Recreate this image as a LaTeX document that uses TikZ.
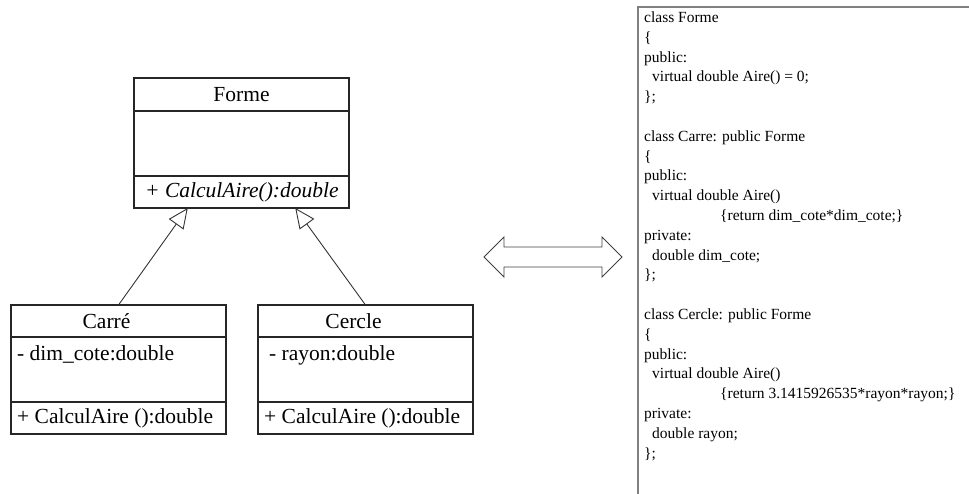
\documentclass[tikz,border=0pt]{standalone}
\usepackage{fontspec}
\setmainfont{Liberation Serif}
\usetikzlibrary{arrows.meta,positioning,calc}

\begin{document}
\begin{tikzpicture}[x=1pt,y=-1pt,
  box/.style={draw=black!85,line width=1.2pt,minimum width=215pt,inner sep=0pt,outer sep=0pt},
  umltext/.style={font=\fontsize{21.5}{24}\selectfont,inner sep=0pt},
  inherit/.style={draw=black!80,line width=0.9pt,-{Triangle[open,length=20pt,width=18pt]}},
  codefont/.style={font=\fontsize{15.5}{19.8}\selectfont,align=left,inner sep=0pt,anchor=north west}]
\useasboundingbox (0,0) rectangle (969,494);

% class Forme
\node[box,minimum height=33pt] (forme) at (241.5,94.5) {};
\node[box,minimum height=65pt,below=0pt of forme] (formeattr) {};
\node[box,minimum height=32pt,below=0pt of formeattr] (formeop) {};
\node[umltext] (formename) at (forme.center) {Forme};
\node[umltext,anchor=west] (formeopname) at ([xshift=11pt]formeop.west) {\itshape + CalculAire():double};

% class Carre
\node[box,minimum height=32pt] (carre) at (118.5,321) {};
\node[box,minimum height=65pt,below=0pt of carre] (carreattr) {};
\node[box,minimum height=32pt,below=0pt of carreattr] (carreop) {};
\node[umltext] (carrename) at ([xshift=-12pt]carre.center) {Carré};
\node[umltext,anchor=base west] (carreattrname) at ([xshift=6pt,yshift=-23pt]carreattr.north west) {- dim\_cote:double};
\node[umltext,anchor=west] (carreopname) at ([xshift=6pt]carreop.west) {+ CalculAire ():double};

% class Cercle
\node[box,minimum height=32pt] (cercle) at (365.5,321) {};
\node[box,minimum height=65pt,below=0pt of cercle] (cercleattr) {};
\node[box,minimum height=32pt,below=0pt of cercleattr] (cercleop) {};
\node[umltext] (cerclename) at ([xshift=-12pt]cercle.center) {Cercle};
\node[umltext,anchor=base west] (cercleattrname) at ([xshift=11pt,yshift=-23pt]cercleattr.north west) {- rayon:double};
\node[umltext,anchor=west] (cercleopname) at ([xshift=6pt]cercleop.west) {+ CalculAire ():double};

% heritage
\draw[inherit] (carre.north) -- ($(formeop.south west)!0.25!(formeop.south east)$);
\draw[inherit] (cercle.north) -- ($(formeop.south west)!0.75!(formeop.south east)$);

% equivalence
\draw[black!75,line width=0.8pt] (484,257) -- (504,237) -- (504,247) -- (602,247) -- (602,237)
  -- (622,257) -- (602,277) -- (602,267) -- (504,267) -- (504,277) -- cycle;

% code C++
\draw[black!50,line width=1.8pt] (969,7) -- (638,7) -- (638,494);
\node[codefont] (code) at (644,11.5) {class Forme\\
\{\\
public:\\
\hspace*{8pt}virtual double Aire() = 0;\\
\};\\
~\\
class Carre: public Forme\\
\{\\
public:\\
\hspace*{8pt}virtual double Aire()\\
\hspace*{76pt}\{return dim\_cote*dim\_cote;\}\\
private:\\
\hspace*{8pt}double dim\_cote;\\
\};\\
~\\
class Cercle: public Forme\\
\{\\
public:\\
\hspace*{8pt}virtual double Aire()\\
\hspace*{76pt}\{return 3.1415926535*rayon*rayon;\}\\
private:\\
\hspace*{8pt}double rayon;\\
\};};
\end{tikzpicture}
\end{document}
